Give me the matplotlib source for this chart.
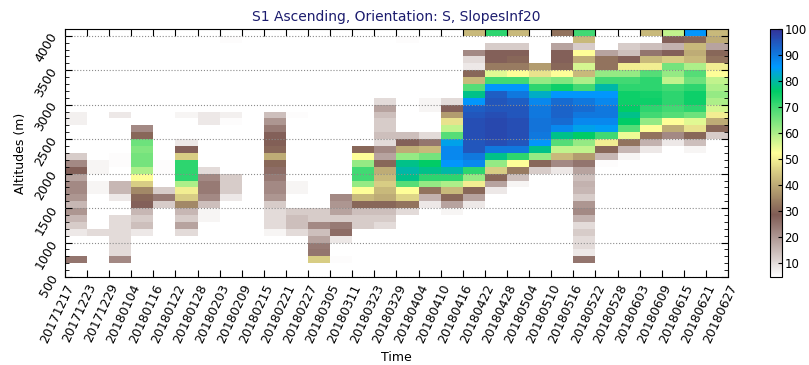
import matplotlib
matplotlib.use("Agg")
import matplotlib.pyplot as plt
import numpy as np

# acquisition dates (column edges)
dates = ["20171217", "20171223", "20171229", "20180104", "20180116", "20180122",
         "20180128", "20180203", "20180209", "20180215", "20180221", "20180227",
         "20180305", "20180311", "20180323", "20180329", "20180404", "20180410",
         "20180416", "20180422", "20180428", "20180504", "20180510", "20180516",
         "20180522", "20180528", "20180603", "20180609", "20180615", "20180621",
         "20180627"]

# altitude bins, 100 m, from 500 m
alt_min, alt_step, n_bins = 500, 100, 36

# per column: {bin index: value}; bin 0 = 500-600 m
c00 = {2: 25, 6: 8, 7: 12, 8: 15, 9: 20, 10: 15, 11: 20, 12: 22, 13: 22, 14: 18, 15: 28, 16: 22, 17: 12, 22: 7, 23: 7}
c01 = {6: 10, 12: 6, 13: 6, 15: 6, 16: 6}
c02 = {2: 22, 3: 10, 4: 10, 5: 10, 6: 10, 7: 10, 8: 10, 11: 8, 12: 15, 13: 15, 16: 5, 17: 5, 23: 8}
c03 = {6: 8, 7: 14, 8: 12, 9: 15, 10: 28, 11: 30, 12: 35, 13: 45, 14: 52, 15: 60, 16: 65, 17: 65, 18: 64, 19: 66, 20: 30, 21: 22}
c04 = {10: 12, 11: 24, 12: 12, 15: 5, 16: 5}
c05 = {6: 10, 7: 18, 8: 12, 9: 15, 10: 35, 11: 45, 12: 50, 13: 60, 14: 72, 15: 72, 16: 72, 17: 45, 18: 28, 19: 8, 23: 6}
c06 = {8: 6, 9: 6, 10: 14, 11: 22, 12: 24, 13: 24, 14: 22, 15: 10, 22: 8, 23: 8}
c07 = {11: 8, 12: 12, 13: 12, 14: 12, 22: 5, 23: 7, 34: 5}
c08 = {}
c09 = {6: 6, 7: 10, 8: 10, 9: 10, 10: 12, 11: 20, 12: 22, 13: 22, 14: 24, 15: 26, 16: 30, 17: 40, 18: 30, 19: 29, 20: 28, 21: 24, 22: 20, 23: 14}
c10 = {6: 10, 7: 14, 8: 14, 9: 12, 12: 6, 13: 6, 23: 5}
c11 = {2: 45, 3: 25, 4: 24, 5: 18, 6: 14, 7: 22, 8: 12, 9: 12}
c12 = {2: 5, 5: 8, 6: 26, 7: 24, 8: 12, 9: 18, 10: 20, 11: 22}
c13 = {7: 12, 8: 12, 9: 14, 10: 30, 11: 42, 12: 52, 13: 62, 14: 70, 15: 70, 16: 62, 17: 52, 18: 30}
c14 = {7: 10, 8: 12, 9: 14, 10: 30, 11: 40, 12: 42, 13: 45, 14: 42, 15: 40, 16: 30, 17: 18, 18: 22, 19: 10, 20: 14, 21: 12, 22: 12, 23: 14, 24: 18, 25: 10}
c15 = {9: 10, 10: 32, 11: 46, 12: 52, 13: 68, 14: 78, 15: 80, 16: 78, 17: 62, 18: 40, 19: 28, 20: 14, 34: 5}
c16 = {10: 8, 11: 16, 12: 32, 13: 62, 14: 72, 15: 78, 16: 76, 17: 65, 18: 42, 19: 25, 20: 10, 24: 6, 25: 6}
c17 = {9: 6, 10: 18, 11: 30, 12: 42, 13: 60, 14: 72, 15: 80, 16: 86, 17: 88, 18: 88, 19: 84, 20: 68, 21: 58, 22: 48, 23: 38, 24: 28, 25: 10}
c18 = {10: 8, 11: 18, 12: 30, 13: 50, 14: 62, 15: 72, 16: 88, 17: 90, 18: 95, 19: 95, 20: 96, 21: 96, 22: 96, 23: 95, 24: 94, 25: 86, 26: 78, 27: 68, 28: 42, 29: 30, 30: 8, 31: 10, 32: 22, 35: 42}
c19 = {12: 8, 13: 18, 14: 30, 15: 45, 16: 62, 17: 78, 18: 90, 19: 96, 20: 97, 21: 97, 22: 97, 23: 96, 24: 95, 25: 95, 26: 94, 27: 86, 28: 70, 29: 55, 30: 33, 31: 28, 32: 28, 33: 12, 35: 72}
c20 = {13: 6, 14: 14, 15: 33, 16: 52, 17: 72, 18: 90, 19: 95, 20: 96, 21: 96, 22: 96, 23: 95, 24: 95, 25: 94, 26: 90, 27: 86, 28: 70, 29: 52, 30: 33, 31: 30, 32: 28, 33: 12, 35: 42}
c21 = {15: 12, 16: 30, 17: 62, 18: 78, 19: 86, 20: 90, 21: 91, 22: 91, 23: 90, 24: 90, 25: 88, 26: 82, 27: 72, 28: 62, 29: 48, 30: 38}
c22 = {15: 8, 16: 22, 17: 42, 18: 58, 19: 68, 20: 78, 21: 88, 22: 92, 23: 93, 24: 93, 25: 92, 26: 86, 27: 75, 28: 64, 29: 52, 30: 30, 31: 28, 32: 28, 33: 18, 35: 32}
c23 = {2: 25, 3: 8, 4: 10, 5: 10, 6: 12, 7: 10, 8: 16, 9: 22, 10: 20, 11: 12, 12: 15, 13: 16, 14: 14, 15: 18, 16: 25, 17: 38, 18: 58, 19: 62, 20: 76, 21: 84, 22: 88, 23: 90, 24: 92, 25: 90, 26: 86, 27: 70, 28: 60, 29: 42, 30: 56, 31: 40, 32: 52, 33: 12, 34: 42, 35: 70}
c24 = {16: 5, 17: 15, 18: 30, 19: 50, 20: 70, 21: 85, 22: 88, 23: 90, 24: 90, 25: 88, 26: 86, 27: 80, 28: 70, 29: 62, 30: 32, 31: 32, 32: 18}
c25 = {17: 6, 18: 15, 19: 32, 20: 54, 21: 68, 22: 76, 23: 78, 24: 76, 25: 75, 26: 75, 27: 72, 28: 70, 29: 62, 30: 50, 31: 28, 32: 14, 33: 12}
c26 = {18: 8, 19: 16, 20: 32, 21: 52, 22: 62, 23: 70, 24: 72, 25: 75, 26: 74, 27: 72, 28: 72, 29: 68, 30: 50, 31: 42, 32: 25, 33: 14, 35: 42}
c27 = {19: 8, 20: 22, 21: 40, 22: 52, 23: 68, 24: 70, 25: 72, 26: 72, 27: 70, 28: 58, 29: 62, 30: 65, 31: 45, 32: 28, 33: 16, 34: 28, 35: 58}
c28 = {18: 6, 19: 14, 20: 30, 21: 48, 22: 55, 23: 66, 24: 72, 25: 75, 26: 75, 27: 72, 28: 66, 29: 68, 30: 60, 31: 42, 32: 40, 33: 42, 34: 30, 35: 86}
c29 = {20: 12, 21: 30, 22: 40, 23: 50, 24: 56, 25: 60, 26: 62, 27: 60, 28: 58, 29: 52, 30: 50, 31: 32, 32: 30, 33: 18, 34: 40, 35: 42}

columns = [c00, c01, c02, c03, c04, c05, c06, c07, c08, c09, c10, c11, c12, c13, c14,
           c15, c16, c17, c18, c19, c20, c21, c22, c23, c24, c25, c26, c27, c28, c29]

grid = np.full((n_bins, len(columns)), np.nan)
for i, col in enumerate(columns):
    for j, v in col.items():
        grid[j, i] = v
grid = np.ma.masked_invalid(grid)

x_edges = np.arange(len(dates))
y_edges = alt_min + alt_step * np.arange(n_bins + 1)

fig = plt.figure(figsize=(8.09, 3.65), dpi=100)
ax = fig.add_axes([0.0803, 0.241, 0.8196, 0.680])
cax = fig.add_axes([0.952, 0.241, 0.0148, 0.680])

mesh = ax.pcolormesh(x_edges, y_edges, grid, cmap="terrain_r", vmin=4.5, vmax=100)

ax.set_xlim(0, len(dates) - 1)
ax.set_ylim(500, 4100)
ax.set_xticks(x_edges)
ax.set_xticklabels(dates, rotation=65, ha="right", fontsize=9, rotation_mode="anchor")
ax.set_yticks(np.arange(500, 4001, 500))
ax.set_yticklabels([str(v) for v in range(500, 4001, 500)], rotation=60, fontsize=9)
ax.set_yticks(np.arange(500, 4101, 100), minor=True)
ax.tick_params(which="both", direction="in", top=True, right=True)
ax.tick_params(which="major", length=5)
ax.tick_params(which="minor", length=3)
ax.yaxis.grid(True, which="major", color="0.55", linestyle=":", linewidth=0.8)
ax.set_axisbelow(False)
ax.set_xlabel("Time", fontsize=9)
ax.set_ylabel("Altitudes (m)", fontsize=9)
ax.set_title("S1 Ascending, Orientation: S, SlopesInf20", fontsize=10, color="#1c1c6e")

cb = fig.colorbar(mesh, cax=cax, ticks=np.arange(10, 101, 10))
cb.ax.tick_params(labelsize=8.5, direction="in", length=3, pad=1.5)
cb.outline.set_linewidth(0.8)

fig.savefig("out.png", dpi=100)
